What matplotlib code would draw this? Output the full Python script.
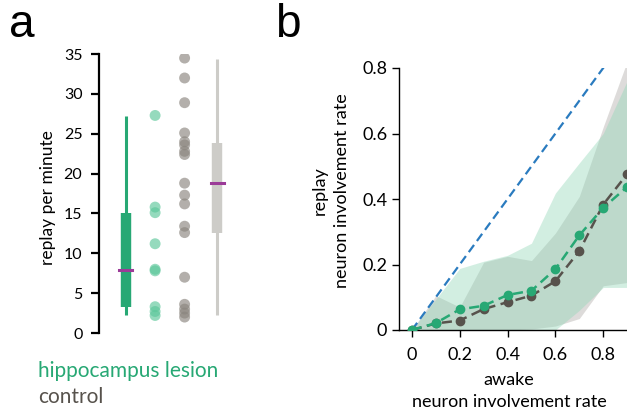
import numpy as np
import matplotlib
matplotlib.use("Agg")
import matplotlib.pyplot as plt

plt.rcParams["font.family"] = ["Lato", "DejaVu Sans"]

GREEN = "#27a874"
GREEN_PT = "#5cc79a"
GREY_PT = "#8a857e"
GREY_BOX = "#cdccc8"
DARK = "#57524c"
MAGENTA = "#9b3b98"
BLUE = "#2a7bbf"

# panel a: replay per minute
lesion_rates = [27.3, 15.8, 15.1, 11.2, 8.0, 7.8, 3.3, 2.7, 2.2]
control_rates = [34.5, 32.0, 28.9, 25.1, 24.0, 23.6, 22.8, 22.4, 18.8,
                 17.3, 16.2, 13.4, 12.6, 7.0, 3.6, 3.0, 2.5, 2.0]
# whisker low, q1, median, q3, whisker high
lesion_box = [2.3, 3.25, 7.95, 15.0, 27.25]
control_box = [2.2, 12.5, 18.8, 23.8, 34.4]

# panel b: involvement rate
awake = [0, 0.1, 0.2, 0.3, 0.4, 0.5, 0.6, 0.7, 0.8, 0.9, 1.0]
lesion_mean = [0, 0.021, 0.063, 0.074, 0.107, 0.12, 0.186, 0.289, 0.373, 0.437, 0.5]
control_mean = [0, 0.02, 0.029, 0.064, 0.085, 0.105, 0.149, 0.241, 0.383, 0.476, 0.56]
lesion_hi = [0, 0.094, 0.188, 0.21, 0.228, 0.265, 0.418, 0.51, 0.6, 0.76, 0.85]
lesion_lo = [0, 0, 0, 0, 0, 0, 0, 0.06, 0.13, 0.13, 0.14]
control_hi = [0, 0.105, 0.07, 0.207, 0.225, 0.212, 0.296, 0.408, 0.62, 0.82, 0.9]
control_lo = [0, 0, 0, 0, 0, 0.003, 0.012, 0.035, 0.135, 0.145, 0.15]

fig = plt.figure(figsize=(6.27, 4.16), dpi=100)

# ---- panel a
ax = fig.add_axes([0.158, 0.1995, 0.2305, 0.6705])
pos = [1, 2, 3, 4.1]


def draw_box(ax, x, stats, color, med_color):
    lo, q1, med, q3, hi = stats
    ax.plot([x, x], [lo, hi], color=color, lw=2.2, solid_capstyle="butt", zorder=2)
    ax.plot([x, x], [q1, q3], color=color, lw=7.5, solid_capstyle="butt", zorder=2)
    ax.plot([x - 0.22, x + 0.22], [med, med], color=med_color, lw=2.2, zorder=3)


draw_box(ax, pos[0], lesion_box, GREEN, MAGENTA)
ax.scatter([pos[1]] * len(lesion_rates), lesion_rates, s=62, color=GREEN_PT,
           alpha=0.65, edgecolors="none", zorder=3)
ax.scatter([pos[2]] * len(control_rates), control_rates, s=62, color=GREY_PT,
           alpha=0.65, edgecolors="none", zorder=3)
draw_box(ax, pos[3], control_box, GREY_BOX, MAGENTA)

ax.set_xlim(0.1, 5)
ax.set_ylim(0, 35)
ax.set_yticks(range(0, 36, 5))
ax.set_xticks([])
for s in ["top", "right", "bottom"]:
    ax.spines[s].set_visible(False)
ax.spines["left"].set_linewidth(1.6)
ax.tick_params(axis="y", length=6, width=1.6, labelsize=11.5, pad=6)
ax.set_ylabel("replay per minute", fontsize=12.5)
ax.yaxis.set_label_coords(-(99 - 48) / 144.5, 0.485)
ax.yaxis.label.set_va("center")

fig.text(38 / 627, 1 - 377 / 416, "hippocampus lesion", color=GREEN, fontsize=15)
fig.text(38 / 627, 1 - 403 / 416, "control", color=DARK, fontsize=15)

fig.text(9 / 627, 1 - 37 / 416, "a", fontsize=33, family="Liberation Sans")
fig.text(275 / 627, 1 - 37 / 416, "b", fontsize=33, family="Liberation Sans")

# ---- panel b
bx = fig.add_axes([399 / 627, 1 - 330 / 416, 264 / 627, 262 / 416])
bx.fill_between(awake, control_lo, control_hi, color="#b4b1ad", alpha=0.45,
                lw=0, zorder=1)
bx.fill_between(awake, lesion_lo, lesion_hi, color="#8fd6b6", alpha=0.4,
                lw=0, zorder=1)
bx.plot([0, 1], [0, 1], ls=(0, (4, 2.2)), color=BLUE, lw=1.6, zorder=2)
bx.plot(awake, control_mean, ls=(0, (4, 2.2)), color=DARK, lw=1.8,
        marker="o", ms=6, zorder=3)
bx.plot(awake, lesion_mean, ls=(0, (4, 2.2)), color=GREEN, lw=1.8,
        marker="o", ms=6, zorder=4)

bx.set_xlim(-0.054, 1.05)
bx.set_ylim(0, 0.8)
bx.set_xticks([0, 0.2, 0.4, 0.6, 0.8])
bx.set_xticklabels(["0", "0.2", "0.4", "0.6", "0.8"])
bx.set_yticks([0, 0.2, 0.4, 0.6, 0.8])
bx.set_yticklabels(["0", "0.2", "0.4", "0.6", "0.8"])
for s in ["top", "right"]:
    bx.spines[s].set_visible(False)
bx.spines["left"].set_linewidth(1.0)
bx.spines["bottom"].set_linewidth(1.0)
bx.tick_params(length=5, width=1.0, labelsize=13)
bx.tick_params(axis="x", pad=7)
bx.set_ylabel("replay\nneuron involvement rate", fontsize=13, linespacing=1.45)
bx.yaxis.set_label_coords(-(399 - 331) / 264, (330 - 191) / 262)
bx.yaxis.label.set_va("center")
bx.set_xlabel("awake\nneuron involvement rate", fontsize=13, linespacing=1.45)
bx.xaxis.set_label_coords((509 - 399) / 264, -(391 - 330) / 262)
bx.xaxis.label.set_va("center")

fig.savefig("out.png", dpi=100)
